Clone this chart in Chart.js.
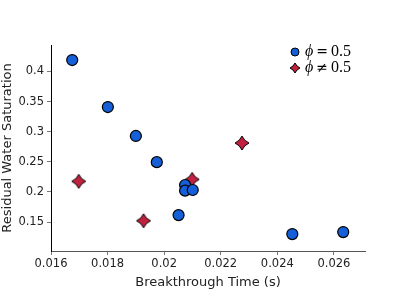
<!DOCTYPE html>
<html>
<head>
<meta charset="utf-8">
<script src="https://cdn.jsdelivr.net/npm/chart.js@4"></script>
<style>
  body { margin: 0; background: white; }
  canvas { display: block; }
</style>
</head>
<body>
<canvas id="myChart" width="401" height="290"></canvas>
<script>
// data
let blaaX = [0.01675, 0.01801, 0.0190, 0.01974, 0.02074, 0.02074, 0.02101, 0.02051, 0.02453, 0.02633];
let blaaY = [0.419, 0.341, 0.293, 0.2495, 0.2116, 0.2022, 0.2033, 0.1616, 0.1301, 0.1334];
let rodX = [0.01698, 0.01927, 0.02099, 0.02275];
let rodY = [0.2176, 0.1522, 0.2209, 0.2812];

let xTicks = [0.016, 0.018, 0.02, 0.022, 0.024, 0.026];
let yTicks = [0.15, 0.2, 0.25, 0.3, 0.35, 0.4];

let blaaFarge = "#1560d8";
let rodFarge = "#c0213f";

// lager en stjerne med fire spisser som punkt
function lagStjerne(storrelse) {
    let c = document.createElement("canvas");
    c.width = storrelse;
    c.height = storrelse;
    let g = c.getContext("2d");
    let m = storrelse / 2;
    let r = m - 1;
    let inn = r * 0.4;
    g.beginPath();
    g.moveTo(m, m - r);
    g.lineTo(m + inn, m - inn);
    g.lineTo(m + r, m);
    g.lineTo(m + inn, m + inn);
    g.lineTo(m, m + r);
    g.lineTo(m - inn, m + inn);
    g.lineTo(m - r, m);
    g.lineTo(m - inn, m - inn);
    g.closePath();
    g.fillStyle = rodFarge;
    g.fill();
    g.lineWidth = 1;
    g.strokeStyle = "black";
    g.stroke();
    return c;
}

let stjerne = lagStjerne(16);
let litenStjerne = lagStjerne(12);

function punkter(xs, ys) {
    return xs.map(function (x, i) { return { x: x, y: ys[i] }; });
}

// egen forklaring oppe til høyre
const forklaring = {
    id: "forklaring",
    afterDraw(chart) {
        let ctx = chart.ctx;
        ctx.save();
        let x0 = 295;
        let rader = [
            { y: 52, tegn: "=" },
            { y: 68, tegn: "\u2260" }
        ];
        // sirkel
        ctx.beginPath();
        ctx.arc(x0, rader[0].y, 4, 0, Math.PI * 2);
        ctx.fillStyle = blaaFarge;
        ctx.fill();
        ctx.lineWidth = 1;
        ctx.strokeStyle = "black";
        ctx.stroke();
        // stjerne
        ctx.drawImage(litenStjerne, x0 - 6, rader[1].y - 6);

        ctx.fillStyle = "black";
        ctx.textBaseline = "middle";
        rader.forEach(function (rad) {
            let x = x0 + 10;
            ctx.font = "italic 16px 'Liberation Serif'";
            ctx.fillText("\u03D5", x, rad.y);
            x += ctx.measureText("\u03D5").width + 3;
            ctx.font = "14px 'DejaVu Serif'";
            ctx.fillText(rad.tegn, x, rad.y);
            x += ctx.measureText(rad.tegn).width + 3;
            ctx.font = "16px 'Liberation Serif'";
            ctx.fillText("0.5", x, rad.y);
        });
        ctx.restore();
    }
};

const ctx = document.getElementById("myChart");

new Chart(ctx, {
    type: "scatter",
    data: {
        datasets: [{
            label: "phi = 0.5",
            data: punkter(blaaX, blaaY),
            pointStyle: "circle",
            pointRadius: 5.5,
            pointHoverRadius: 5.5,
            backgroundColor: blaaFarge,
            borderColor: "black",
            borderWidth: 1.2
        }, {
            label: "phi != 0.5",
            data: punkter(rodX, rodY),
            pointStyle: stjerne,
            pointRadius: 8,
            backgroundColor: rodFarge,
            borderColor: "black"
        }]
    },
    options: {
        responsive: false,
        animation: false,
        devicePixelRatio: 1,
        layout: { padding: { top: 45, right: 36, left: 0, bottom: 0 } },
        plugins: {
            legend: { display: false },
            tooltip: { enabled: false }
        },
        scales: {
            x: {
                type: "linear",
                min: 0.016,
                max: 0.0271,
                afterBuildTicks: function (scale) {
                    scale.ticks = xTicks.map(function (v) { return { value: v }; });
                },
                afterFit: function (scale) { scale.height = 39; },
                ticks: {
                    callback: function (v) { return String(v); },
                    color: "#222",
                    font: { family: "'DejaVu Sans'", size: 11.5 },
                    padding: 2,
                    maxRotation: 0
                },
                grid: { drawOnChartArea: false, drawTicks: true, tickLength: 4, color: "#777" },
                border: { display: true, color: "#555", width: 1 },
                title: {
                    display: true,
                    text: "Breakthrough Time (s)",
                    color: "#222",
                    font: { family: "'DejaVu Sans'", size: 13 },
                    padding: { top: 1, bottom: 0 }
                }
            },
            y: {
                type: "linear",
                min: 0.102,
                max: 0.444,
                afterBuildTicks: function (scale) {
                    scale.ticks = yTicks.map(function (v) { return { value: v }; });
                },
                afterFit: function (scale) { scale.width = 51; },
                ticks: {
                    callback: function (v) { return String(v); },
                    color: "#222",
                    font: { family: "'DejaVu Sans'", size: 11.5 },
                    padding: 3
                },
                grid: { drawOnChartArea: false, drawTicks: true, tickLength: 4, color: "#777" },
                border: { display: true, color: "black", width: 1 },
                title: {
                    display: true,
                    text: "Residual Water Saturation",
                    color: "#222",
                    font: { family: "'DejaVu Sans'", size: 13 },
                    padding: { top: 0, bottom: 1 }
                }
            }
        }
    },
    plugins: [forklaring]
});
</script>
</body>
</html>
